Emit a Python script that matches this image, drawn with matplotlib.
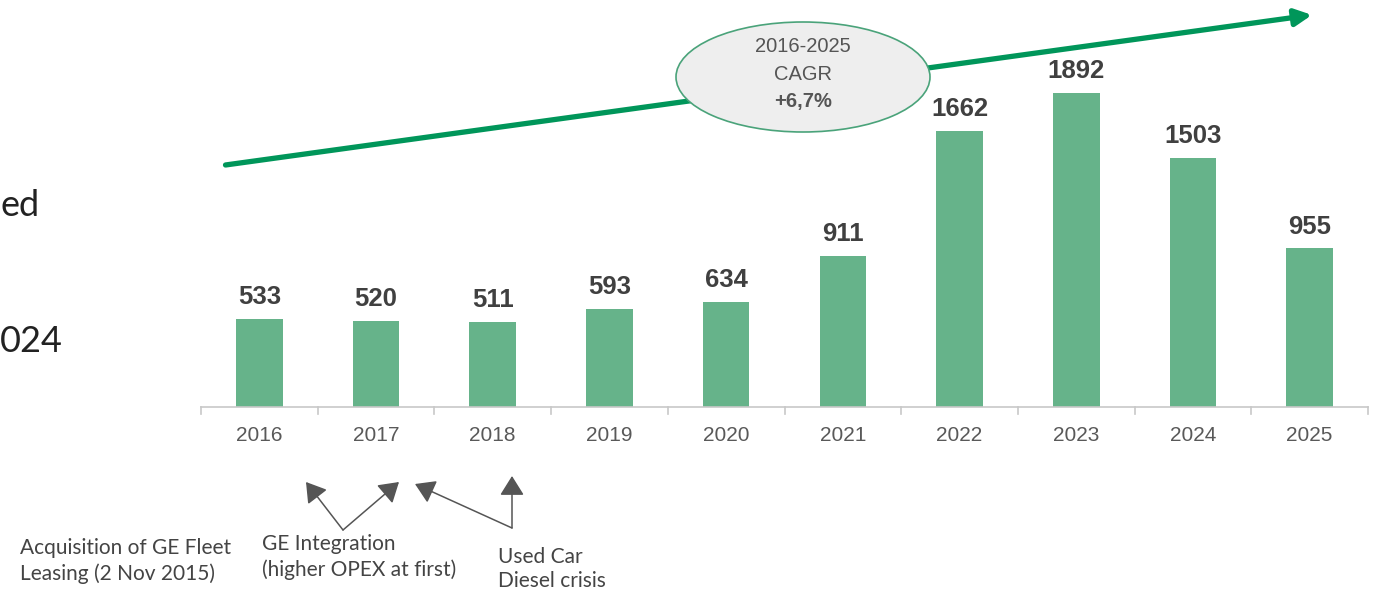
import numpy as np
import matplotlib
matplotlib.use("Agg")
from matplotlib import pyplot as plt
from matplotlib.patches import Ellipse, FancyArrowPatch

years = ["2016", "2017", "2018", "2019", "2020", "2021", "2022", "2023", "2024", "2025"]
values = [533, 520, 511, 593, 634, 911, 1662, 1892, 1503, 955]
cagr_text = ["2016-2025", "CAGR", "+6,7%"]
notes = ["Acquisition of GE Fleet\nLeasing (2 Nov 2015)",
         "GE Integration\n(higher OPEX at first)",
         "Used Car\nDiesel crisis"]

W, H = 1376, 592
fig = plt.figure(figsize=(W / 100, H / 100), dpi=100)

# axes placed in pixel terms: x from 201 to 1368, baseline at y=407
ax = fig.add_axes([201 / W, (H - 407) / H, (1368 - 201) / W, 407 / H])
ax.set_xlim(-0.5, 9.5)
ax.set_ylim(0, 2452)

narrow = ["Liberation Sans Narrow", "Liberation Sans", "DejaVu Sans"]
bar_col = "#66b38a"
green = "#00965a"

x = np.arange(len(years))
bars = ax.bar(x, values, width=0.40, color=bar_col, zorder=2)
for xi, v in zip(x, values):
    ax.text(xi, v + 60, str(v), ha="center", va="bottom", fontsize=18.5,
            fontweight="bold", color="#404040", family=narrow)

for s in ["top", "right", "left"]:
    ax.spines[s].set_visible(False)
ax.spines["bottom"].set_color("#c8c8c8")
ax.spines["bottom"].set_linewidth(1.2)
ax.set_yticks([])
ax.set_xticks(x)
ax.set_xticklabels(years, fontsize=15, color="#595959", family=narrow)
ax.tick_params(axis="x", length=0, pad=14)
# boundary ticks between categories
for b in np.arange(-0.5, 10.0, 1.0):
    ax.plot([b, b], [0, -45], color="#c8c8c8", lw=1.2, clip_on=False)

# growth arrow
ax.annotate("", xy=(9.02, 2362), xytext=(-0.29, 1458),
            arrowprops=dict(arrowstyle="-|>,head_length=1.0,head_width=0.5",
                            color=green, lw=3.8, shrinkA=0, shrinkB=0),
            annotation_clip=False, zorder=3)

# CAGR bubble (in figure pixels)
ell = Ellipse((803 / W, 1 - 77 / H), 254 / W, 110 / H, transform=fig.transFigure,
              facecolor="#eeeeee", edgecolor="#4aa37a", lw=1.2, zorder=5)
fig.patches.append(ell)
fig.text(803 / W, 1 - 47 / H, cagr_text[0], ha="center", va="center", fontsize=14.5,
         color="#555555", family=narrow, zorder=6)
fig.text(803 / W, 1 - 75 / H, cagr_text[1], ha="center", va="center", fontsize=14.5,
         color="#555555", family=narrow, zorder=6)
fig.text(803 / W, 1 - 102 / H, cagr_text[2], ha="center", va="center", fontsize=14.5,
         fontweight="bold", color="#555555", family=narrow, zorder=6)

# cut-off slide text on the left
fig.text(0, 1 - 205 / H, "ed", ha="left", va="center", fontsize=26, color="#222222",
         family=["Lato", "DejaVu Sans"])
fig.text(0, 1 - 342 / H, "024", ha="left", va="center", fontsize=26, color="#222222",
         family=["Lato", "DejaVu Sans"])

# event notes with arrows
note_font = ["Lato", "DejaVu Sans"]
fig.text(20 / W, 1 - 561 / H, notes[0], ha="left", va="center", fontsize=15,
         color="#444444", family=note_font, linespacing=1.3)
fig.text(262 / W, 1 - 557 / H, notes[1], ha="left", va="center", fontsize=15,
         color="#444444", family=note_font, linespacing=1.3)
fig.text(498 / W, 1 - 569 / H, notes[2], ha="left", va="center", fontsize=15,
         color="#444444", family=note_font, linespacing=1.3)

arrows = [((343, 530), (306, 482)), ((343, 530), (399, 482)),
          ((512, 528), (415, 484)), ((512, 528), (512, 476))]
for (x0, y0), (x1, y1) in arrows:
    fig.add_artist(FancyArrowPatch(
        (x0 / W, 1 - y0 / H), (x1 / W, 1 - y1 / H), transform=fig.transFigure,
        arrowstyle="-|>,head_length=8,head_width=5", color="#555555", lw=1.1,
        mutation_scale=1.5, shrinkA=0, shrinkB=0))

fig.savefig("out.png", dpi=100)
